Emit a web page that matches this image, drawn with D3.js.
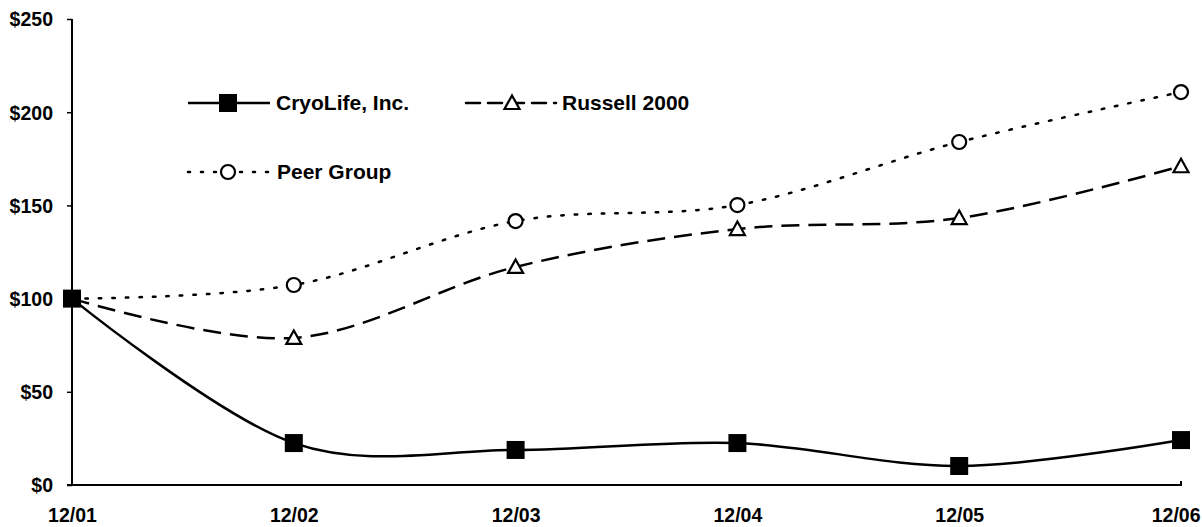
<!DOCTYPE html>
<html><head><meta charset="utf-8">
<script src="https://cdn.jsdelivr.net/npm/d3@7"></script>
<style>
body{margin:0;background:#fff;}
svg text{font-family:"Liberation Sans",Arial,Helvetica,sans-serif;font-weight:bold;fill:#000;}
</style></head>
<body><svg id="chart" width="1202" height="527"></svg>
<script>
const categories = ["12/01","12/02","12/03","12/04","12/05","12/06"];
const cryolife = [100, 22.5, 18.8, 22.5, 10.2, 24.1];
const russell = [100, 78.9, 117, 137.3, 143.2, 171];
const peer = [100, 107.3, 141.6, 150.2, 184, 210.8];
const yTicks = [0, 50, 100, 150, 200, 250];
const seriesNames = ["CryoLife, Inc.", "Russell 2000", "Peer Group"];

const svg = d3.select("#chart");
const x = d3.scalePoint().domain(categories).range([72, 1181]);
const y = d3.scaleLinear().domain([0, 250]).range([485, 19]);

// y axis
const yAxis = svg.append("g").attr("transform","translate(72,0)")
  .call(d3.axisLeft(y).tickValues(yTicks).tickSize(5).tickPadding(14).tickFormat(d => "$" + d));
yAxis.select(".domain").attr("stroke","#000").attr("stroke-width",2).attr("d","M0,19V485");
yAxis.selectAll(".tick line").attr("stroke","#000").attr("stroke-width",1.5);
yAxis.selectAll(".tick text").style("font-size","19.5px").attr("dy","0.35em");

// x axis
const xAxis = svg.append("g").attr("transform","translate(0,485)")
  .call(d3.axisBottom(x).tickSize(0).tickPadding(23));
xAxis.select(".domain").attr("stroke","#000").attr("stroke-width",2).attr("d","M67,0H1181V-4");
xAxis.selectAll(".tick text").style("font-size","19.5px")
  .attr("text-anchor", (d,i) => i === categories.length-1 ? "end" : "middle")
  .attr("x", (d,i) => i === categories.length-1 ? 1200 - x(d) : 0);

const curve = d3.curveCardinal.tension(0);
const line = d3.line().x((d,i) => x(categories[i])).y(d => y(d)).curve(curve);

// Peer group
svg.append("path").datum(peer).attr("d", line).attr("fill","none")
  .attr("stroke","#000").attr("stroke-width",2.5).attr("stroke-dasharray","2.5,11").attr("stroke-linecap","round");
// Russell
svg.append("path").datum(russell).attr("d", line).attr("fill","none")
  .attr("stroke","#000").attr("stroke-width",2.5).attr("stroke-dasharray","18,9");
// CryoLife
svg.append("path").datum(cryolife).attr("d", line).attr("fill","none")
  .attr("stroke","#000").attr("stroke-width",2.5);

function circleMarker(g, cx, cy){
  g.append("circle").attr("cx",cx).attr("cy",cy).attr("r",7).attr("fill","#fff").attr("stroke","#000").attr("stroke-width",2.2);
}
function triMarker(g, cx, cy){
  const s = 15;
  g.append("path").attr("d", d3.line()([[cx-s/2, cy+s*0.4],[cx+s/2, cy+s*0.4],[cx, cy-s*0.5]]) + "Z")
    .attr("fill","#fff").attr("stroke","#000").attr("stroke-width",2.2).attr("stroke-linejoin","miter");
}
function squareMarker(g, cx, cy){
  g.append("rect").attr("x",cx-9).attr("y",cy-9).attr("width",18).attr("height",18).attr("fill","#000");
}

const markers = svg.append("g");
peer.forEach((v,i) => circleMarker(markers, x(categories[i]), y(v)));
russell.forEach((v,i) => triMarker(markers, x(categories[i]), y(v)));
cryolife.forEach((v,i) => squareMarker(markers, x(categories[i]), y(v)));

// legend
const lg = svg.append("g");
function legendItem(x0, x1, mx, cy, dash, marker, tx, label){
  lg.append("line").attr("x1",x0).attr("x2",x1).attr("y1",cy).attr("y2",cy)
    .attr("stroke","#000").attr("stroke-width",2.5).attr("stroke-dasharray",dash).attr("stroke-linecap", dash ? "round" : "butt");
  marker(lg, mx, cy);
  lg.append("text").attr("x",tx).attr("y",cy).attr("dy","0.35em").style("font-size","21px").text(label);
}
legendItem(188, 270, 228, 103, null, squareMarker, 276, seriesNames[0]);
legendItem(466, 556, 512, 103, "14,8", triMarker, 562, seriesNames[1]);
legendItem(188, 272, 228, 172, "2,11", circleMarker, 277, seriesNames[2]);
</script></body></html>
